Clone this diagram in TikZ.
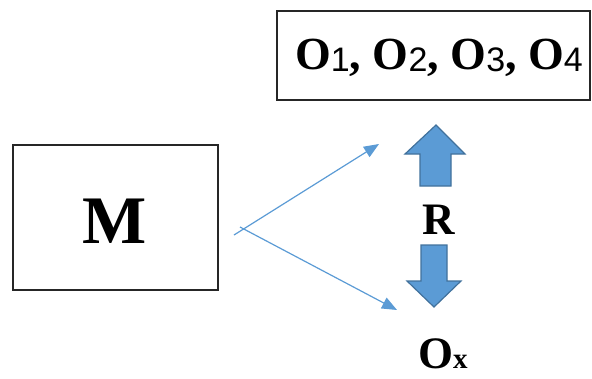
\documentclass[tikz,border=0pt]{standalone}
\usepackage{fontspec}
\setmainfont{Liberation Serif}
\newfontfamily\digitfont{Liberation Sans}
\usetikzlibrary{arrows.meta}
\definecolor{arrowblue}{HTML}{5B9BD5}
\definecolor{arrowedge}{HTML}{41719C}
\tikzstyle{box} = [draw=black!85, line width=1.4pt]
\tikzstyle{line} = [draw=arrowblue, line width=1.2pt, -{Triangle[length=15pt,width=12pt]}]
\tikzstyle{fat} = [fill=arrowblue, draw=arrowedge, line width=1.2pt]
\newcommand{\osub}[1]{{\digitfont\mdseries\fontsize{34}{34}\selectfont\raisebox{-2pt}{#1}}}

\begin{document}
\begin{tikzpicture}[x=1pt,y=-1pt]
    \useasboundingbox (0,0) rectangle (592,378);

    \node[box,minimum width=205pt,minimum height=145pt] (M) at (115.5,217.5) {};
    \node[font=\bfseries\fontsize{68}{70}\selectfont] (Mtext) at (115,221.5) {M};

    \node[box,minimum width=313pt,minimum height=89pt] (O) at (433.5,55.5) {};
    \node[font=\bfseries\fontsize{46}{48}\selectfont,anchor=base] (Otext) at (439,69)
        {O\osub{1}, O\osub{2}, O\osub{3}, O\osub{4}};

    \node[font=\bfseries\fontsize{45}{47}\selectfont,anchor=base] (R) at (439,234) {R};
    \node[font=\bfseries\fontsize{45}{47}\selectfont,anchor=base west,inner sep=0pt] (Ox) at (418,368)
        {O{\fontsize{29}{29}\selectfont x}};

    % thin arrows
    \coordinate (s1) at (234,235);
    \coordinate (t1) at (379,144);
    \coordinate (s2) at (240,227);
    \coordinate (t2) at (397,310);
    \draw[line] (s1) -- (t1);
    \draw[line] (s2) -- (t2);

    % block arrows
    \draw[fat] (436,125) -- (465,154) -- (451,154) -- (451,186) -- (420,186) -- (420,154) -- (405,154) -- cycle;
    \draw[fat] (434,307) -- (461,281) -- (447,281) -- (447,245) -- (421,245) -- (421,281) -- (407,281) -- cycle;

\end{tikzpicture}
\end{document}
